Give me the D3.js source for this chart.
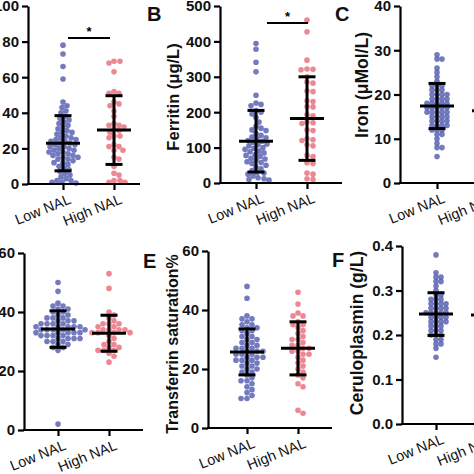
<!DOCTYPE html>
<html><head><meta charset="utf-8">
<script src="https://cdn.jsdelivr.net/npm/d3@7"></script>
<style>
html,body{margin:0;padding:0;background:#fff;overflow:hidden}
svg{display:block;font-family:"Liberation Sans",Arial,sans-serif}
</style></head>
<body><svg id="chart" width="474" height="474"></svg>
<script>
// ---------- data ----------
const categories = ["Low NAL", "High NAL"];

const aLow = [78,73,66,59,46,44,43,41,40,38,37,36,35,34,33,32,31,30,29,29,28,27,26,26,25,25,24,24,23,23,22,22,21,21,20,20,19,19,18,18,17,17,16,16,15,15,14,14,13,12,12,11,10,9,8,7,6,5,4,3,2,2,1,1,0.5];
const aHigh = [69,69,68,63,52,51,51,46,45,44,41,38,34,33,33,32,31,30,29,27,27,26,22,21,21,19,19,15,14,10,6,5,2,2,1,1];
const aMean = [22.9, 30.3];
const aSD = [15.5, 19.3];
const aTicks = [0,20,40,60,80,100];

const ferritinLow = [394,378,341,314,248,226,222,218,205,200,195,185,172,160,155,150,148,140,135,130,128,125,120,118,115,110,108,105,100,98,95,90,88,85,80,78,75,70,68,65,60,58,55,50,45,40,35,30,28,25,20,15,12,10,8];
const ferritinHigh = [460,427,347,322,320,321,300,285,282,260,258,232,230,216,215,193,190,172,170,168,150,148,125,122,120,108,105,78,75,57,55,28,25,12,10];
const ferritinMean = [118, 182];
const ferritinSD = [87, 118];
const ferritinTicks = [0,100,200,300,400,500];

const ironLow = [29,28,28,26,25,24,23,22,22,22,21,21,21,20,20,20,20,19,19,19,19,18,18,18,18,18,17,17,17,17,17,16,16,16,16,16,15,15,15,15,14,14,14,14,13,13,13,13,12,12,12,11,11,10,9,8,8,6];
const ironHigh = [28,25,23,22,21,20,19,18,18,17,17,16,16,16,15,15,14,14,13,12,12,11,10,9,8];
const ironMean = [17.4, 16.3];
const ironSD = [5.1, 5.0];
const ironTicks = [0,10,20,30,40];

const dLow = [50,47,43,42,42,41,41,40,40,39,39,38,38,38,37,37,37,36,36,36,36,35,35,35,35,35,34,34,34,34,34,33,33,33,33,33,32,32,32,32,31,31,31,31,30,30,30,29,29,28,28,27,2];
const dHigh = [53,48,40,39,38,37,36,36,36,35,35,34,34,34,34,33,33,33,33,32,31,30,29,29,28,28,27,27,27,26,25,23];
const dMean = [34.2, 32.8];
const dSD = [6.2, 6.1];
const dTicks = [0,20,40,60];

const tsatLow = [48,44,38,37,37,36,35,35,34,34,33,33,32,31,31,30,30,29,29,28,28,27,27,27,26,26,26,25,25,25,24,24,24,23,23,23,22,22,21,21,20,20,19,19,18,17,16,16,15,14,13,12,11,10,10];
const tsatHigh = [46,42,39,38,38,36,35,35,34,33,32,31,30,30,29,28,28,27,27,26,26,25,25,24,23,22,21,20,19,18,17,15,14,6,5];
const tsatMean = [25.8, 27.0];
const tsatSD = [7.8, 9.0];
const tsatTicks = [0,20,40,60];

const cerLow = [0.38,0.34,0.33,0.33,0.32,0.32,0.31,0.30,0.29,0.29,0.28,0.28,0.28,0.27,0.27,0.27,0.27,0.26,0.26,0.26,0.26,0.25,0.25,0.25,0.25,0.25,0.24,0.24,0.24,0.24,0.23,0.23,0.23,0.23,0.22,0.22,0.22,0.21,0.21,0.21,0.20,0.20,0.20,0.19,0.19,0.18,0.18,0.17,0.15];
const cerHigh = [0.30,0.28,0.27,0.26,0.26,0.25,0.25,0.25,0.24,0.24,0.24,0.23,0.23,0.22,0.22,0.21,0.21,0.20,0.19,0.18];
const cerMean = [0.247, 0.245];
const cerSD = [0.048, 0.040];
const cerTicks = [0,0.1,0.2,0.3,0.4];

// ---------- layout (style) ----------
const panels = [
  {low:aLow, high:aHigh, mean:aMean, sd:aSD, ticks:aTicks, max:100, fmt:d3.format("d"),
   ax:28, x0:63, x1:114, xEnd:140, yBot:184, yTop:6, letter:null, title:null, sig:true},
  {low:ferritinLow, high:ferritinHigh, mean:ferritinMean, sd:ferritinSD, ticks:ferritinTicks, max:500, fmt:d3.format("d"),
   ax:220, x0:256, x1:307, xEnd:342, yBot:183, yTop:6, letter:{t:"B",x:147,y:21}, title:{t:"Ferritin (\u03bcg/L)",x:179,y:97,fs:16.5}, sig:true},
  {low:ironLow, high:ironHigh, mean:ironMean, sd:ironSD, ticks:ironTicks, max:40, fmt:d3.format("d"),
   ax:400, x0:437, x1:489, xEnd:530, yBot:183, yTop:6, letter:{t:"C",x:335,y:21}, title:{t:"Iron (\u03bcMol/L)",x:368,y:85,fs:17.5}, pack:0.75},
  {low:dLow, high:dHigh, mean:dMean, sd:dSD, ticks:dTicks, max:60, fmt:d3.format("d"),
   ax:24, x0:58, x1:109, xEnd:143, yBot:430, yTop:253, letter:null, title:null},
  {low:tsatLow, high:tsatHigh, mean:tsatMean, sd:tsatSD, ticks:tsatTicks, max:60, fmt:d3.format("d"),
   ax:208, x0:247, x1:298, xEnd:332, yBot:428, yTop:251, letter:{t:"E",x:143,y:268}, title:{t:"Transferrin saturation%",x:178,y:344,fs:16}},
  {low:cerLow, high:cerHigh, mean:cerMean, sd:cerSD, ticks:cerTicks, max:0.4, fmt:d3.format(".1f"),
   ax:402, x0:436, x1:488, xEnd:530, yBot:424, yTop:246, letter:{t:"F",x:332,y:267}, title:{t:"Ceruloplasmin (g/L)",x:363,y:333,fs:17.5}, pack:0.75}
];

const BLUE = "#5a63b3", PINK = "#e97380";
const R = 2.8;
const svg = d3.select("#chart");

function swarm(vals, y, cx, pack) {
  const placed = [];
  const order = vals.slice().sort((a,b)=>b-a);
  const dmin = 2*R*pack;
  for (const v of order) {
    const py = y(v);
    let px = cx;
    for (let k = 0; k < 80; k++) {
      const off = (k % 2 === 1 ? 1 : -1) * Math.ceil(k/2);
      const tx = cx + off;
      let ok = true;
      for (const p of placed) {
        const dx = p.x - tx, dy = p.y - py;
        if (dx*dx + dy*dy < dmin*dmin) { ok = false; break; }
      }
      if (ok) { px = tx; break; }
    }
    placed.push({x:px, y:py, v});
  }
  return placed;
}

panels.forEach(P => {
  const g = svg.append("g");
  const y = d3.scaleLinear().domain([0, P.max]).range([P.yBot, P.yTop]);
  const x = d3.scalePoint().domain(categories).range([P.x0, P.x1]);
  const pack = P.pack || 0.92;

  // dots
  [[P.low, BLUE], [P.high, PINK]].forEach(([vals, col], i) => {
    const pts = swarm(vals, y, x(categories[i]), pack);
    g.append("g").selectAll("circle").data(pts).join("circle")
      .attr("cx", d => d.x).attr("cy", d => d.y).attr("r", R)
      .attr("fill", col).attr("fill-opacity", 0.85);
  });

  // error bars
  categories.forEach((c, i) => {
    const cx = x(c), m = P.mean[i], s = P.sd[i];
    const eb = g.append("g").attr("stroke", "#000").attr("stroke-width", 3).attr("fill", "none");
    eb.append("line").attr("x1", cx).attr("x2", cx).attr("y1", y(m - s)).attr("y2", y(m + s));
    [m - s, m + s].forEach(v => eb.append("line").attr("x1", cx - 8.5).attr("x2", cx + 8.5).attr("y1", y(v)).attr("y2", y(v)));
    eb.append("line").attr("x1", cx - 17).attr("x2", cx + 17).attr("y1", y(m)).attr("y2", y(m));
  });

  // y axis
  const ya = g.append("g").attr("transform", `translate(${P.ax},0)`)
    .call(d3.axisLeft(y).tickValues(P.ticks).tickFormat(P.fmt).tickSize(6).tickSizeOuter(0).tickPadding(3));
  ya.select(".domain").attr("stroke-width", 2.2);
  ya.selectAll(".tick line").attr("stroke-width", 2.2);
  ya.selectAll("text").attr("font-size", 15).attr("font-weight", "bold").attr("fill", "#111")
    .attr("font-family", "Liberation Sans, Arial, sans-serif");

  // x baseline + ticks
  g.append("line").attr("x1", P.ax - 1).attr("x2", P.xEnd).attr("y1", P.yBot).attr("y2", P.yBot)
    .attr("stroke", "#000").attr("stroke-width", 2.2);
  const xa = g.append("g").attr("transform", `translate(0,${P.yBot})`)
    .call(d3.axisBottom(x).tickSize(6).tickSizeOuter(0).tickFormat(""));
  xa.select(".domain").remove();
  xa.selectAll(".tick line").attr("stroke-width", 2.2);
  categories.forEach(c => {
    g.append("text").attr("transform", `translate(${x(c) + 9},${P.yBot + 19}) rotate(-22)`)
      .attr("text-anchor", "end").attr("font-size", 14.5).attr("fill", "#111").text(c);
  });

  // significance
  if (P.sig) {
    const sy = P.max === 100 ? y(82) : y(452);
    const xs0 = P.max === 100 ? x(categories[0]) + 5 : x(categories[0]) + 11;
    const xs1 = P.max === 100 ? x(categories[1]) - 4 : x(categories[1]) + 1;
    g.append("line").attr("x1", xs0).attr("x2", xs1).attr("y1", sy).attr("y2", sy)
      .attr("stroke", "#000").attr("stroke-width", 2);
    g.append("text").attr("x", (xs0 + xs1) / 2).attr("y", sy - 2).attr("text-anchor", "middle")
      .attr("font-size", 13).attr("font-weight", "bold").text("*");
  }

  if (P.letter) {
    g.append("text").attr("x", P.letter.x).attr("y", P.letter.y).attr("font-size", 20)
      .attr("font-weight", "bold").attr("fill", "#111").text(P.letter.t);
  }
  if (P.title) {
    g.append("text").attr("transform", `translate(${P.title.x},${P.title.y}) rotate(-90)`)
      .attr("text-anchor", "middle").attr("font-size", P.title.fs).attr("font-weight", "bold")
      .attr("fill", "#111").text(P.title.t);
  }
});
</script>
</body></html>
